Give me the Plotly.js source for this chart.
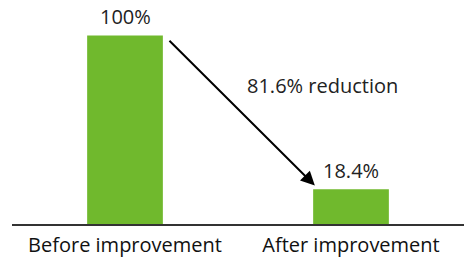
<!DOCTYPE html>
<html><head><meta charset="utf-8">
<script src="https://cdn.plot.ly/plotly-3.0.1.min.js"></script>
<style>html,body{margin:0;padding:0;background:#fff}#c{width:464px;height:258px}</style>
</head><body><div id="c"></div>
<script>
const categories = ["Before improvement", "After improvement"];
const values = [100, 18.4];
const valueLabels = ["100%", "18.4%"];
const reductionLabel = "81.6% reduction";

const idx = categories.map((_, i) => i);
const green = "#70b92d";
const font = "Open Sans, Noto Sans, sans-serif";

const trace = {
  type: "bar", x: idx, y: values, width: 0.335,
  marker: {color: green}, hoverinfo: "none"
};

const annotations = idx.map(i => ({
  x: i, y: values[i], text: valueLabels[i], showarrow: false,
  yanchor: "bottom", yshift: 3, font: {family: font, size: 20, color: "#222"}
}));
annotations.push({
  x: 1 - 0.16, y: values[1] + 2, ax: 0.19, ay: values[0] - 2,
  axref: "x", ayref: "y", xref: "x", yref: "y", text: "",
  showarrow: true, arrowhead: 2, arrowsize: 1.4, arrowwidth: 2, arrowcolor: "#000"
});
annotations.push({
  x: 0.53, y: 73.5, text: reductionLabel, showarrow: false, xanchor: "left",
  font: {family: font, size: 20, color: "#222"}
});

const layout = {
  width: 464, height: 258,
  margin: {l: 12, r: 0, t: 10, b: 34},
  paper_bgcolor: "#fff", plot_bgcolor: "#fff",
  showlegend: false,
  xaxis: {range: [-0.5, 1.5], tickvals: idx, ticktext: categories,
    showline: true, linecolor: "#333", linewidth: 1.5, ticks: "",
    ticklabelstandoff: 2,
    showgrid: false, zeroline: false, fixedrange: true,
    tickfont: {family: font, size: 20, color: "#111"}},
  yaxis: {range: [0, 113.5], visible: false, showgrid: false, zeroline: false},
  annotations: annotations
};
Plotly.newPlot("c", [trace], layout, {displayModeBar: false, staticPlot: true});
</script></body></html>
